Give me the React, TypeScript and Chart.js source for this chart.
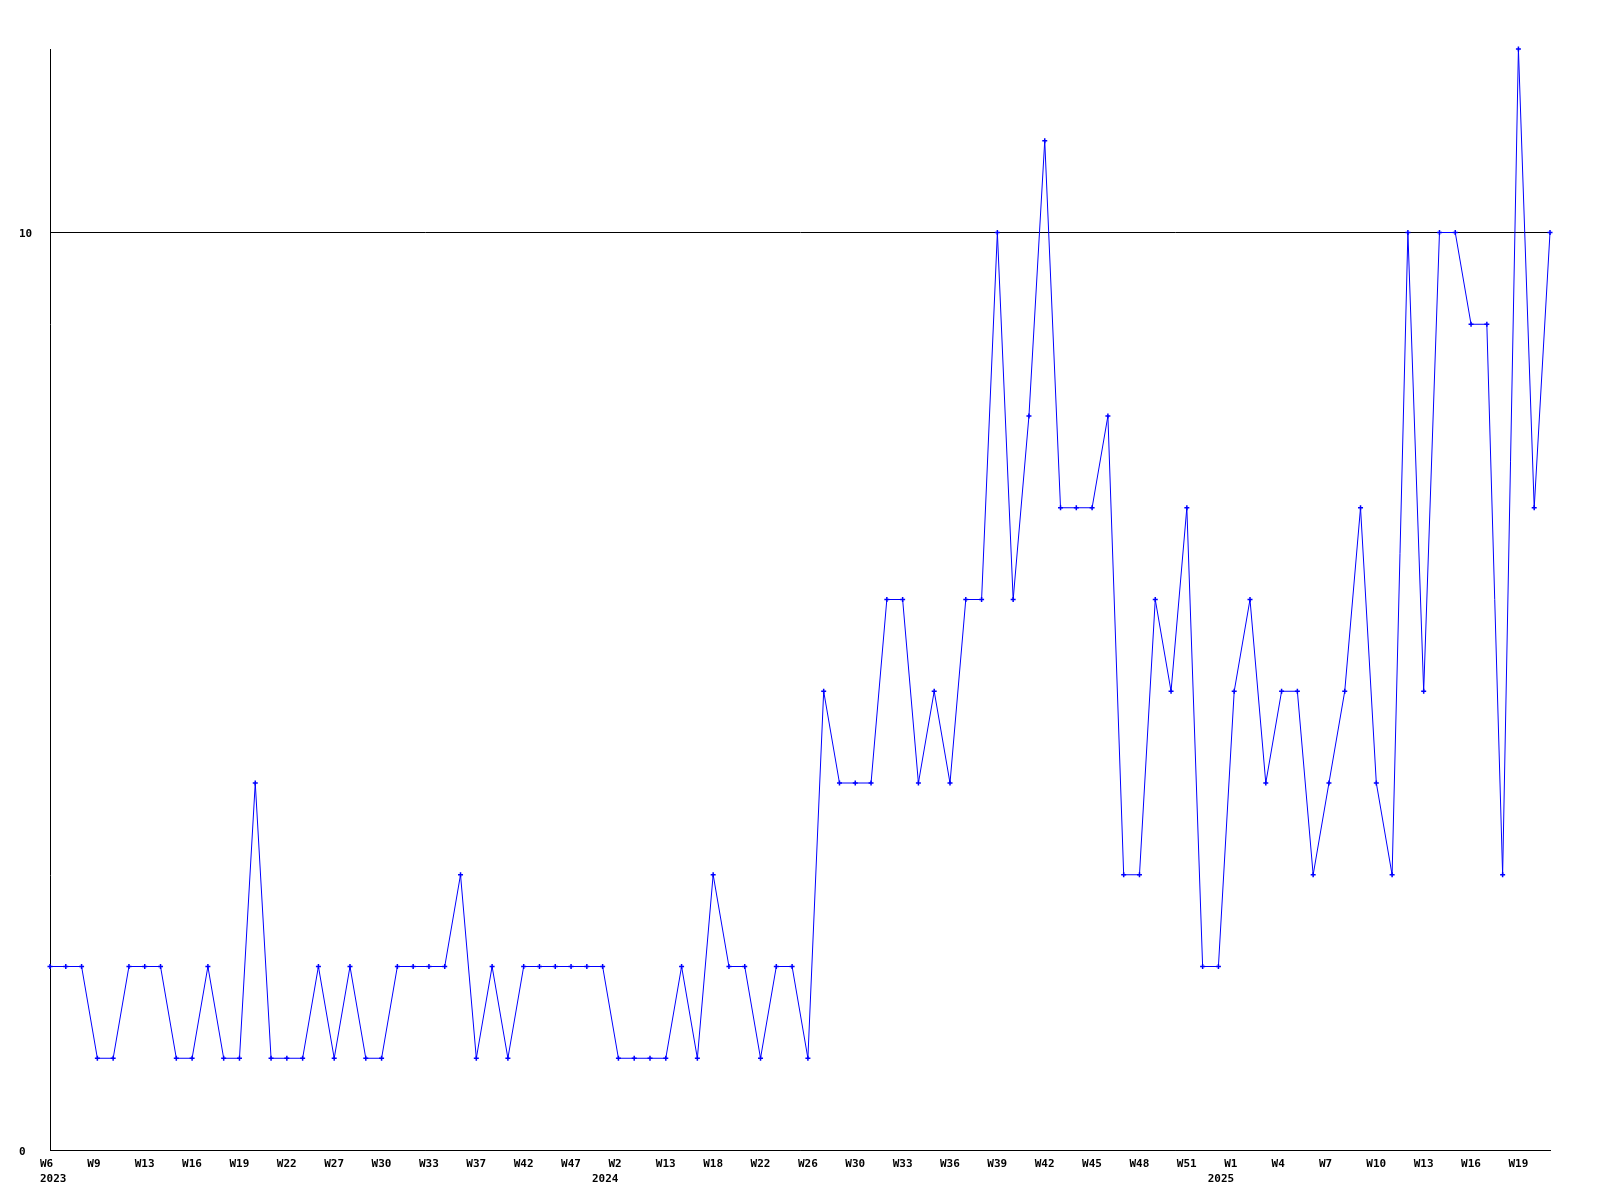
import React, { useEffect, useRef } from "react";
import { Chart, registerables } from "chart.js";

Chart.register(...registerables);

const weeks: string[] = [
  "W6", "W7", "W8", "W9", "W10", "W11", "W13", "W14", "W15", "W16",
  "W17", "W18", "W19", "W20", "W21", "W22", "W24", "W25", "W27", "W28",
  "W29", "W30", "W31", "W32", "W33", "W34", "W35", "W37", "W39", "W40",
  "W42", "W44", "W45", "W47", "W49", "W51", "W2", "W6", "W9", "W13",
  "W15", "W16", "W18", "W19", "W20", "W22", "W23", "W25", "W26", "W27",
  "W28", "W30", "W31", "W32", "W33", "W34", "W35", "W36", "W37", "W38",
  "W39", "W40", "W41", "W42", "W43", "W44", "W45", "W46", "W47", "W48",
  "W49", "W50", "W51", "W52", "W53", "W1", "W2", "W3", "W4", "W5",
  "W6", "W7", "W8", "W9", "W10", "W11", "W12", "W13", "W14", "W15",
  "W16", "W17", "W18", "W19", "W20", "W21",
];

const yearLabels: string[] = ["2023", "2024", "2025"];
const yearStartIndex: number[] = [0, 36, 75];

const values: number[] = [
  2, 2, 2, 1, 1, 2, 2, 2, 1, 1,
  2, 1, 1, 4, 1, 1, 1, 2, 1, 2,
  1, 1, 2, 2, 2, 2, 3, 1, 2, 1,
  2, 2, 2, 2, 2, 2, 1, 1, 1, 1,
  2, 1, 3, 2, 2, 1, 2, 2, 1, 5,
  4, 4, 4, 6, 6, 4, 5, 4, 6, 6,
  10, 6, 8, 11, 7, 7, 7, 8, 3, 3,
  6, 5, 7, 2, 2, 5, 6, 4, 5, 5,
  3, 4, 5, 7, 4, 3, 10, 5, 10, 10,
  9, 9, 3, 12, 7, 10,
];

const yTicks: number[] = [0, 10];
const yMax = 12;
const labelEvery = 3;

const FONT_FAMILY = "'DejaVu Sans Mono', 'Liberation Mono', monospace";

const yearPlugin = {
  id: "yearLabels",
  afterDraw(chart: any) {
    const xs = chart.scales.x;
    const ctx = chart.ctx;
    ctx.save();
    ctx.font = `bold 11px ${FONT_FAMILY}`;
    ctx.fillStyle = "#000000";
    ctx.textAlign = "left";
    ctx.textBaseline = "top";
    yearStartIndex.forEach((idx, k) => {
      const px = xs.getPixelForValue(idx);
      const x = Math.max(px - 26.5, xs.left - 10);
      ctx.fillText(yearLabels[k], x, xs.top + 8 + 15.5);
    });
    ctx.restore();
  },
};

export default function App() {
  const canvasRef = useRef<HTMLCanvasElement | null>(null);

  useEffect(() => {
    const canvas = canvasRef.current;
    if (!canvas) return;

    const font = {
      family: FONT_FAMILY,
      size: 11,
      weight: "bold" as const,
    };

    const chart = new Chart(canvas, {
      type: "line",
      data: {
        labels: weeks,
        datasets: [
          {
            data: values,
            borderColor: "#0000ff",
            backgroundColor: "#0000ff",
            borderWidth: 1,
            pointStyle: "cross",
            pointRadius: 2.5,
            pointBorderWidth: 1.5,
            pointBorderColor: "#0000ff",
            tension: 0,
            fill: false,
            clip: false,
          },
        ],
      },
      options: {
        animation: false,
        responsive: true,
        maintainAspectRatio: false,
        devicePixelRatio: 1,
        layout: { padding: { left: 19, top: 49, right: 50, bottom: 0 } },
        plugins: {
          legend: { display: false },
          tooltip: { enabled: false },
          title: { display: false },
        },
        scales: {
          x: {
            type: "category",
            offset: false,
            grid: { display: false, drawTicks: false },
            border: { display: true, color: "#000000", width: 1 },
            ticks: {
              autoSkip: false,
              maxRotation: 0,
              minRotation: 0,
              align: "start",
              labelOffset: -10,
              padding: 8,
              color: "#000000",
              font,
              callback: function (_v: any, index: number) {
                return index % labelEvery === 0 ? weeks[index] : "";
              },
            },
            afterFit: (scale: any) => {
              scale.height = 50;
            },
          },
          y: {
            type: "linear",
            min: 0,
            max: yMax,
            grid: {
              display: true,
              color: "#000000",
              lineWidth: 1,
              drawTicks: false,
            },
            border: { display: true, color: "#000000", width: 1 },
            ticks: {
              crossAlign: "far",
              padding: 0,
              labelOffset: 2,
              color: "#000000",
              font,
            },
            afterBuildTicks: (scale: any) => {
              scale.ticks = yTicks.map((v) => ({ value: v }));
            },
            afterFit: (scale: any) => {
              scale.width = 31;
            },
          },
        },
      },
      plugins: [yearPlugin],
    });

    return () => {
      chart.destroy();
    };
  }, []);

  return (
    <div
      style={{
        position: "absolute",
        left: 0,
        top: 0,
        width: 1600,
        height: 1200,
        background: "#ffffff",
      }}
    >
      <canvas ref={canvasRef} />
    </div>
  );
}
